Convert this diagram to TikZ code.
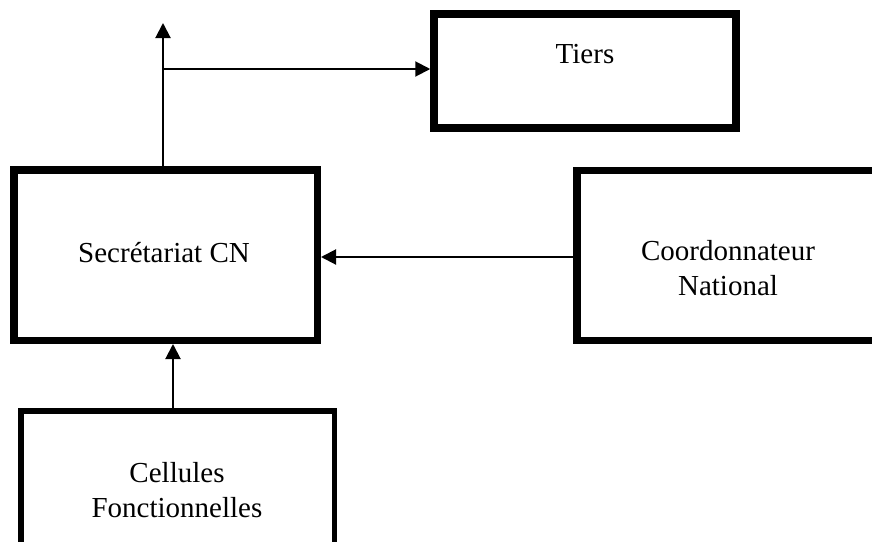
\documentclass[tikz,border=0pt]{standalone}
\usepackage{fontspec}
\setmainfont{Liberation Serif}
\usetikzlibrary{arrows.meta, positioning}

\begin{document}
\begin{tikzpicture}[x=0.5pt, y=-0.5pt, >={Triangle[length=7.5pt, width=7.5pt]},
    box/.style={draw, rectangle, line width=3.75pt, inner sep=0pt},
    lbl/.style={anchor=base, align=center, font=\fontsize{14.5}{17.5}\selectfont},
    link/.style={->, line width=1pt}]

    \clip (0,0) rectangle (872,541);

    % ===== boites =====
    \node[box, minimum width=151pt, minimum height=57pt] (tiers) at (585,71) {};
    \node[box, minimum width=151.75pt, minimum height=85.25pt] (sec) at (165.5,255) {};
    \node[box, minimum width=161.5pt, minimum height=85pt] (coord) at (738.4,255.5) {};
    \node[box, line width=2.75pt, minimum width=156.75pt, minimum height=84.5pt] (cell) at (177.5,495.4) {};

    % ===== textes (base = derniere ligne) =====
    \node[lbl] (tiersTxt) at (585,63) {Tiers};
    \node[lbl] (secTxt) at (164,262) {Secrétariat CN};
    \node[lbl] (coordTxt) at (728,295) {Coordonnateur\\National};
    \node[lbl] (cellTxt) at (177,517) {Cellules\\Fonctionnelles};

    % ===== liaisons =====
    \coordinate (up) at (163,23);
    \coordinate (fork) at (163,69);
    \coordinate (mid) at (0,257);
    \coordinate (foot) at (173,0);

    \draw[link] (sec.north -| up) -- (up);
    \draw[link] (fork) -- (fork -| tiers.west);
    \draw[link] (coord.west |- mid) -- (sec.east |- mid);
    \draw[link] (cell.north -| foot) -- (sec.south -| foot);
\end{tikzpicture}
\end{document}
